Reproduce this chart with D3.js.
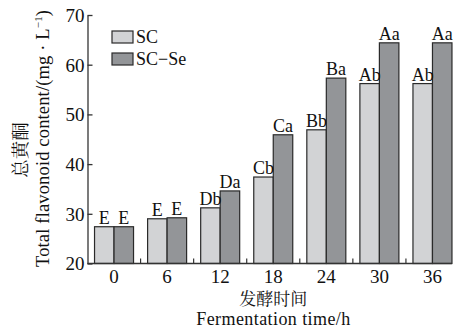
<!DOCTYPE html>
<html>
<head>
<meta charset="utf-8">
<script src="https://cdn.jsdelivr.net/npm/d3@7"></script>
<style>
  body { margin: 0; background: #fff; }
</style>
</head>
<body>
<div id="chart"></div>
<script>
// fermentation times (h)
const times = ['0', '6', '12', '18', '24', '30', '36'];
const series = ['SC', 'SC\u2212Se'];
// total flavonoid content, mg/L
const scValues = [27.4, 29.0, 31.2, 37.4, 46.9, 56.2, 56.2];
const scSeValues = [27.4, 29.2, 34.6, 45.9, 57.3, 64.4, 64.4];
// significance letters above bars
const scLetters = ['E', 'E', 'Db', 'Cb', 'Bb', 'Ab', 'Ab'];
const scSeLetters = ['E', 'E', 'Da', 'Ca', 'Ba', 'Aa', 'Aa'];
const yTicks = [20, 30, 40, 50, 60, 70];

const W = 459, H = 328;
const margin = { top: 15, right: 0, bottom: 64.5, left: 87.5 };
const width = W - margin.left - margin.right,
    height = H - margin.top - margin.bottom;

const colors = ['#d2d3d5', '#939598'];
const serif = "'Liberation Serif', 'Times New Roman', serif";
const cjk = "'Noto Serif CJK SC', 'Noto Sans CJK SC', serif";

const svg = d3.select('#chart')
    .append('svg')
    .attr('width', W)
    .attr('height', H)
    .append('g')
    .attr('transform', 'translate(' + margin.left + ',' + margin.top + ')');

const data = times.map((t, i) => ({
    time: t,
    vals: [
        { s: 0, v: scValues[i], lab: scLetters[i] },
        { s: 1, v: scSeValues[i], lab: scSeLetters[i] }
    ]
}));

const xScale = d3.scaleBand()
    .domain(times)
    .range([0, width])
    .paddingInner(0)
    .paddingOuter(0);

const xInner = d3.scaleBand()
    .domain([0, 1])
    .range([xScale.bandwidth() / 2 - 19.5, xScale.bandwidth() / 2 + 19.5]);

const yScale = d3.scaleLinear()
    .domain([20, 70])
    .range([height, 0]);

// bars
const groups = svg.selectAll('.grp')
    .data(data)
    .enter()
    .append('g')
    .attr('class', 'grp')
    .attr('transform', d => 'translate(' + xScale(d.time) + ',0)');

groups.selectAll('rect')
    .data(d => d.vals)
    .enter()
    .append('rect')
    .attr('x', d => xInner(d.s))
    .attr('width', xInner.bandwidth())
    .attr('y', d => yScale(d.v))
    .attr('height', d => height - yScale(d.v))
    .attr('fill', d => colors[d.s])
    .attr('stroke', '#2a2a2a')
    .attr('stroke-width', 1.2);

groups.selectAll('.lab')
    .data(d => d.vals)
    .enter()
    .append('text')
    .attr('class', 'lab')
    .attr('x', d => xInner(d.s) + xInner.bandwidth() / 2)
    .attr('y', d => yScale(d.v) - 3)
    .attr('text-anchor', 'middle')
    .style('font-family', serif)
    .style('font-size', '18px')
    .style('fill', '#111')
    .text(d => d.lab);

// y axis
const yAxis = d3.axisRight(yScale)
    .tickValues(yTicks)
    .tickSize(5)
    .tickSizeOuter(0);

const yAxisG = svg.append('g').call(yAxis);
yAxisG.select('.domain').attr('stroke', '#333').attr('stroke-width', 1.3);
yAxisG.selectAll('.tick line').attr('stroke', '#333').attr('stroke-width', 1.3);
yAxisG.selectAll('.tick text')
    .attr('x', -3)
    .attr('text-anchor', 'end')
    .attr('dy', '0.34em')
    .style('font-family', serif)
    .style('font-size', '19px')
    .style('fill', '#111');

// x axis
const xAxis = d3.axisBottom(xScale).tickSize(0);
const xAxisG = svg.append('g')
    .attr('transform', 'translate(0,' + height + ')')
    .call(xAxis);
xAxisG.select('.domain').remove();
xAxisG.selectAll('.tick text')
    .attr('y', 19)
    .attr('dy', 0)
    .style('font-family', serif)
    .style('font-size', '19px')
    .style('fill', '#111');

svg.append('line')
    .attr('x1', 0)
    .attr('x2', xScale(times[times.length - 1]) + xInner(1) + xInner.bandwidth())
    .attr('y1', height)
    .attr('y2', height)
    .attr('stroke', '#333')
    .attr('stroke-width', 1.3);

// small ticks between groups
svg.selectAll('.sep')
    .data(times.slice(1))
    .enter()
    .append('line')
    .attr('x1', d => xScale(d))
    .attr('x2', d => xScale(d))
    .attr('y1', height)
    .attr('y2', height - 5)
    .attr('stroke', '#333')
    .attr('stroke-width', 1.2);

// axis titles
svg.append('text')
    .attr('x', width / 2)
    .attr('y', height + 41.5)
    .attr('text-anchor', 'middle')
    .style('font-family', cjk)
    .style('font-size', '17px')
    .style('fill', '#111')
    .text('发酵时间');

svg.append('text')
    .attr('x', width / 2)
    .attr('y', height + 61)
    .attr('text-anchor', 'middle')
    .attr('textLength', 154)
    .style('font-family', serif)
    .style('font-size', '18px')
    .style('fill', '#111')
    .text('Fermentation time/h');

svg.append('text')
    .attr('transform', 'translate(' + (-61) + ',' + 135 + ') rotate(-90)')
    .attr('text-anchor', 'middle')
    .style('font-family', cjk)
    .style('font-size', '18.5px')
    .style('fill', '#111')
    .text('总黄酮');

const yt = svg.append('text')
    .attr('transform', 'translate(' + (-38.5) + ',' + 123.5 + ') rotate(-90)')
    .attr('text-anchor', 'middle')
    .attr('textLength', 257)
    .style('font-family', serif)
    .style('font-size', '18.5px')
    .style('fill', '#111');
yt.append('tspan').text('Total flavonoid content/(mg \u00b7 L');
yt.append('tspan').attr('dy', -7).style('font-size', '11px').text('\u22121');
yt.append('tspan').attr('dy', 7).text(')');

// legend
const legend = svg.selectAll('.leg')
    .data(series)
    .enter()
    .append('g')
    .attr('class', 'leg')
    .attr('transform', (d, i) => 'translate(24.5,' + (16 + i * 22) + ')');

legend.append('rect')
    .attr('width', 21)
    .attr('height', 12)
    .attr('fill', (d, i) => colors[i])
    .attr('stroke', '#2a2a2a')
    .attr('stroke-width', 1.2);

legend.append('text')
    .attr('x', 24)
    .attr('y', 12)
    .style('font-family', serif)
    .style('font-size', '18px')
    .style('fill', '#111')
    .text(d => d);
</script>
</body>
</html>
